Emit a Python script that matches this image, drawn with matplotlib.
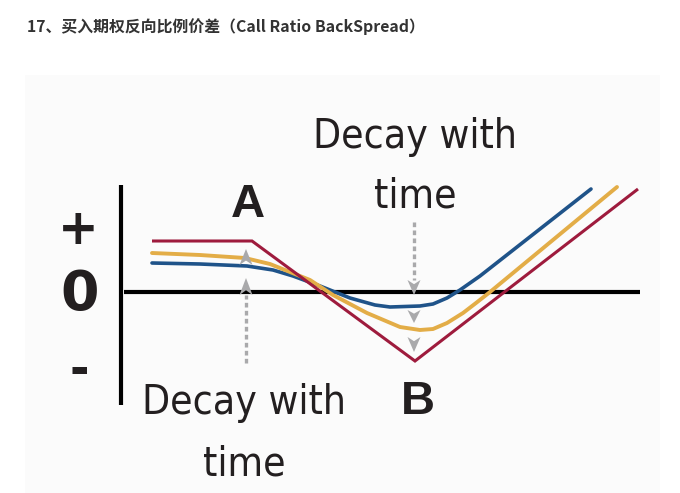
import matplotlib
matplotlib.use("Agg")
import matplotlib.pyplot as plt
from matplotlib.patches import Rectangle
from matplotlib import font_manager as fm

# ---- data (x = underlying price offset, y = profit/loss; 0 = break-even line) ----
expiry_x = [31, 131, 294, 517]
expiry_y = [51, 51, -69, 103]

mid_x = [31, 79, 124, 149, 169, 189, 212, 246, 279, 299, 312, 326, 342, 355, 369, 496]
mid_y = [39, 37, 34, 28, 20, 12, -3, -21, -35, -38, -37, -31, -21, -11, 0, 105]

early_x = [31, 79, 126, 152, 172, 199, 229, 254, 269, 299, 312, 326, 339, 359, 470]
early_y = [29, 28, 26, 22, 16, 6, -6, -13, -15, -14, -12, -6, 2, 16, 103]

# arrows: (x, shaft start, shaft end, heads as (base, tip))
left_arrow_x = 125
left_shaft = (-71, -3)
left_heads = [(-3, 14), (27, 43)]
right_arrow_x = 293
right_shaft = (70, 12)
right_heads = [(12, -3), (-18, -31), (-45, -60)]

title = "17、买入期权反向比例价差（Call Ratio BackSpread）"
label_top = ["Decay with", "time"]
label_bottom = ["Decay with", "time"]

RED = "#9e1b3d"
GOLD = "#e3ad47"
BLUE = "#1f5389"
GRAY = "#a9a9ab"
INK = "#231f20"

# pick a condensed / narrow font if one is installed
cond = None
for f in fm.fontManager.ttflist:
    nm = f.name.lower()
    st = str(f.stretch).lower()
    if ("narrow" in nm or "condensed" in nm or "condensed" in st) and str(f.style) == "normal" \
            and f.weight in (300, 350, 400, "normal", "light", "regular"):
        cond = f.fname
        break
if cond is not None:
    decay_prop = fm.FontProperties(fname=cond, size=36)
else:
    decay_prop = fm.FontProperties(family="Liberation Sans", size=36)

fig = plt.figure(figsize=(6.8, 4.93), dpi=100)
ax = fig.add_axes([0, 0, 1, 1])
ax.set_xlim(-121, 559)
ax.set_ylim(-201, 292)
ax.axis("off")

# faint panel background
ax.add_patch(Rectangle((-96, -201), 635, 418, facecolor="#fbfbfb", edgecolor="none", zorder=0))

# axes lines
ax.plot([0, 0], [107, -113], color="black", lw=3.0, solid_capstyle="butt", zorder=2)
ax.plot([3, 519], [0, 0], color="black", lw=3.0, solid_capstyle="butt", zorder=2)

# curves
ax.plot(early_x, early_y, color=BLUE, lw=2.6, solid_joinstyle="round", solid_capstyle="round", zorder=4)
ax.plot(mid_x, mid_y, color=GOLD, lw=2.8, solid_joinstyle="round", solid_capstyle="round", zorder=5)
ax.plot(expiry_x, expiry_y, color=RED, lw=2.2, solid_joinstyle="miter", solid_capstyle="butt", zorder=6)

# arrows
def arrow_head(x, base, tip):
    length = abs(tip - base)
    d = 1 if tip > base else -1
    hw = 6.5
    verts = [(x, tip), (x - hw, tip - d * length), (x, tip - d * length * 0.72), (x + hw, tip - d * length)]
    ax.fill([v[0] for v in verts], [v[1] for v in verts], color=GRAY, lw=0, zorder=7)

def arrow(x, shaft, heads):
    ax.plot([x, x], list(shaft), color=GRAY, lw=2.4, linestyle=(0, (1.4, 1.0)),
            dash_capstyle="butt", zorder=3)
    for b, t in heads:
        arrow_head(x, b, t)

arrow(left_arrow_x, left_shaft, left_heads)
arrow(right_arrow_x, right_shaft, right_heads)

# axis symbols
ax.text(-43, 62, "+", fontsize=35, fontweight="bold", color=INK, ha="center", va="center",
        family="DejaVu Sans")
ax.text(-41, -3, "0", fontsize=40, fontweight="bold", color=INK, ha="center", va="center",
        family="DejaVu Sans")
ax.text(-42, -80, "-", fontsize=34, fontweight="bold", color=INK, ha="center", va="center",
        family="DejaVu Sans")

# point labels
ax.text(127, 87, "A", fontsize=34, fontweight="bold", color=INK, ha="center", va="center",
        family="Liberation Sans")
ax.text(297, -110, "B", fontsize=34, fontweight="bold", color=INK, ha="center", va="center",
        family="Liberation Sans")

# decay labels (scaled so the first line is ~204 px wide as in the reference)
renderer = fig.canvas.get_renderer()
probe = ax.text(0, 0, label_top[0], fontproperties=decay_prop)
w = probe.get_window_extent(renderer).width
probe.remove()
decay_prop.set_size(36 * 204.0 / w)

ax.text(294, 144, label_top[0], fontproperties=decay_prop, color=INK, ha="center", va="baseline")
ax.text(294, 84, label_top[1], fontproperties=decay_prop, color=INK, ha="center", va="baseline")
ax.text(123, -122, label_bottom[0], fontproperties=decay_prop, color=INK, ha="center", va="baseline")
ax.text(123, -183, label_bottom[1], fontproperties=decay_prop, color=INK, ha="center", va="baseline")

# title
ax.text(-94, 265, title, fontsize=11.4, fontweight="bold", color="#333333", ha="left", va="center",
        family=["Noto Sans CJK SC", "DejaVu Sans"])

fig.savefig("out.png", dpi=100)
